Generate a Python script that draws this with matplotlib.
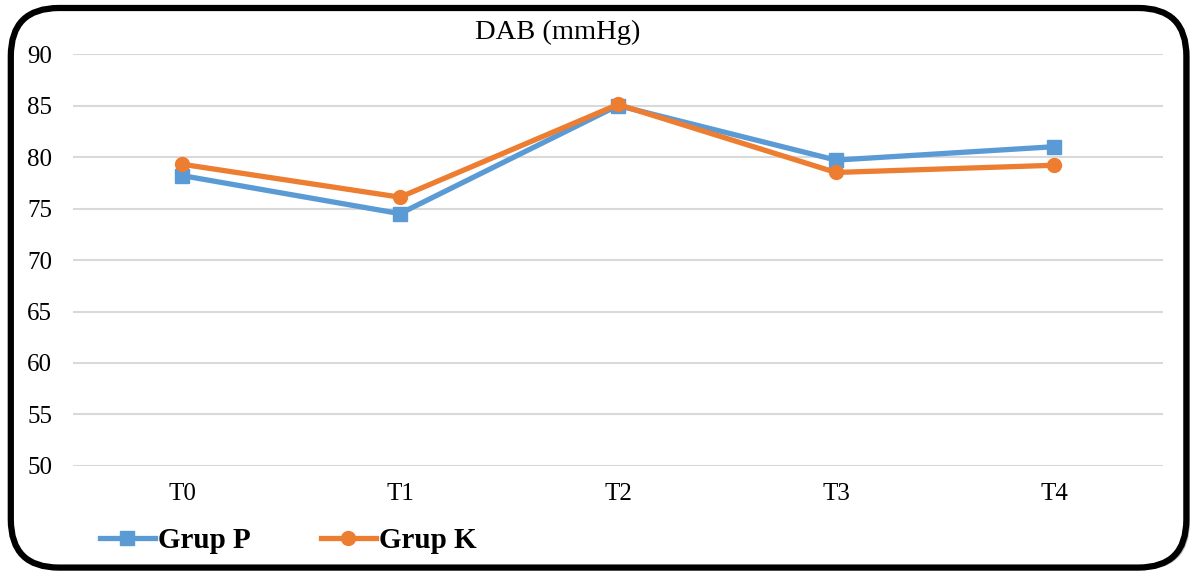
import matplotlib
matplotlib.use("Agg")
import matplotlib.pyplot as plt
from matplotlib.patches import FancyBboxPatch

categories = ["T0", "T1", "T2", "T3", "T4"]
grup_p = [78.2, 74.5, 85.0, 79.7, 81.0]
grup_k = [79.3, 76.1, 85.1, 78.5, 79.2]
yticks = [50, 55, 60, 65, 70, 75, 80, 85, 90]

plt.rcParams['font.family'] = ['Liberation Serif', 'DejaVu Serif']

fig = plt.figure(figsize=(12.02, 5.71), dpi=100)

# rounded frame with shadow
shadow = FancyBboxPatch((0.012, 0.002), 0.978, 0.980, boxstyle="round,pad=0,rounding_size=0.04",
                        transform=fig.transFigure, facecolor="#bfbfbf", edgecolor="none",
                        mutation_aspect=1202/571, zorder=0)
frame = FancyBboxPatch((0.009, 0.006), 0.978, 0.980, boxstyle="round,pad=0,rounding_size=0.04",
                       transform=fig.transFigure, facecolor="white", edgecolor="black",
                       linewidth=4.5, mutation_aspect=1202/571, zorder=1)
fig.patches.extend([shadow, frame])

ax = fig.add_axes([0.0607, 0.1839, 0.9069, 0.7215])
ax.set_zorder(2)
ax.patch.set_alpha(0)
x = range(len(categories))
ax.plot(x, grup_p, color="#5b9bd5", linewidth=3.8, marker="s", markersize=10, label="Grup P", zorder=3)
ax.plot(x, grup_k, color="#ed7d31", linewidth=3.8, marker="o", markersize=10, label="Grup K", zorder=4)

ax.set_xlim(-0.5, 4.5)
ax.set_ylim(50, 90)
ax.set_yticks(yticks)
ax.set_xticks(list(x))
ax.set_xticklabels(categories)
ax.grid(axis="y", color="#d9d9d9", linewidth=1.5)
ax.set_axisbelow(True)
for s in ax.spines.values():
    s.set_visible(False)
ax.tick_params(length=0, labelsize=18, colors="black")
ax.tick_params(axis="y", pad=15)
ax.tick_params(axis="x", pad=12)

fig.text(0.464, 0.943, "DAB (mmHg)", ha="center", va="center", fontsize=20.5, zorder=5)

leg = fig.legend(loc="center left", bbox_to_anchor=(0.061, 0.053), ncol=2, frameon=False,
                 prop={"weight": "bold", "size": 21}, handlelength=1.9, handletextpad=0.1,
                 columnspacing=2.4)
leg.set_zorder(5)

fig.savefig("out.png", dpi=100)
